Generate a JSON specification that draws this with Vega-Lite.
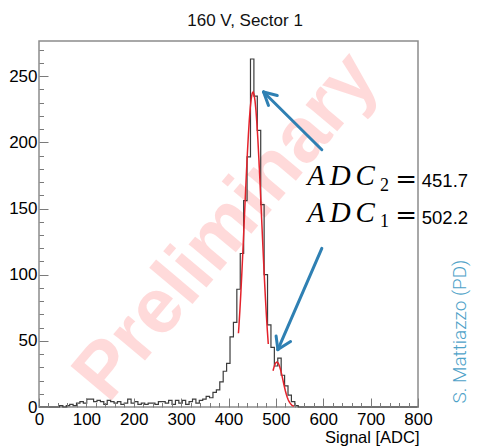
{
  "$schema": "https://vega.github.io/schema/vega-lite/v6.json",
  "width": 379,
  "height": 366,
  "autosize": {"type": "none"},
  "padding": {"left": 39, "top": 41, "right": 65, "bottom": 39},
  "background": "white",
  "config": {
    "view": {"stroke": "#8c8c8c", "strokeWidth": 1.5},
    "font": "Liberation Sans"
  },
  "resolve": {"axis": {"x": "independent", "y": "independent"}},
  "datasets": {
    "hist": [
      {"lo": 0, "n": 0}, {"lo": 7.2, "n": 0}, {"lo": 14.4, "n": 0}, {"lo": 21.6, "n": 0},
      {"lo": 28.8, "n": 0}, {"lo": 36, "n": 0}, {"lo": 43.2, "n": 1}, {"lo": 50.4, "n": 0},
      {"lo": 57.6, "n": 1}, {"lo": 64.8, "n": 2}, {"lo": 72, "n": 1}, {"lo": 79.2, "n": 3},
      {"lo": 86.4, "n": 4}, {"lo": 93.6, "n": 3}, {"lo": 100.8, "n": 6}, {"lo": 108, "n": 6},
      {"lo": 115.2, "n": 4}, {"lo": 122.4, "n": 5}, {"lo": 129.6, "n": 4}, {"lo": 136.8, "n": 2},
      {"lo": 144, "n": 5}, {"lo": 151.2, "n": 4}, {"lo": 158.4, "n": 3}, {"lo": 165.6, "n": 4},
      {"lo": 172.8, "n": 2}, {"lo": 180, "n": 3}, {"lo": 187.2, "n": 6}, {"lo": 194.4, "n": 3},
      {"lo": 201.6, "n": 4}, {"lo": 208.8, "n": 2}, {"lo": 216, "n": 3}, {"lo": 223.2, "n": 2},
      {"lo": 230.4, "n": 3}, {"lo": 237.6, "n": 3}, {"lo": 244.8, "n": 2}, {"lo": 252, "n": 4},
      {"lo": 259.2, "n": 4}, {"lo": 266.4, "n": 3}, {"lo": 273.6, "n": 5}, {"lo": 280.8, "n": 2},
      {"lo": 288, "n": 5}, {"lo": 295.2, "n": 3}, {"lo": 302.4, "n": 5}, {"lo": 309.6, "n": 2},
      {"lo": 316.8, "n": 4}, {"lo": 324, "n": 6}, {"lo": 331.2, "n": 3}, {"lo": 338.4, "n": 5},
      {"lo": 345.6, "n": 6}, {"lo": 352.8, "n": 8}, {"lo": 360, "n": 7}, {"lo": 367.2, "n": 11},
      {"lo": 374.4, "n": 13}, {"lo": 381.6, "n": 19}, {"lo": 388.8, "n": 27}, {"lo": 396, "n": 33},
      {"lo": 403.2, "n": 53}, {"lo": 410.4, "n": 64}, {"lo": 417.6, "n": 89}, {"lo": 424.8, "n": 116},
      {"lo": 432, "n": 156}, {"lo": 439.2, "n": 189}, {"lo": 446.4, "n": 263}, {"lo": 453.6, "n": 235},
      {"lo": 460.8, "n": 209}, {"lo": 468, "n": 153}, {"lo": 475.2, "n": 100}, {"lo": 482.4, "n": 62},
      {"lo": 489.6, "n": 45}, {"lo": 496.8, "n": 31}, {"lo": 504, "n": 37}, {"lo": 511.2, "n": 24},
      {"lo": 518.4, "n": 16}, {"lo": 525.6, "n": 9}, {"lo": 532.8, "n": 4}, {"lo": 540, "n": 1},
      {"lo": 547.2, "n": 0}, {"lo": 554.4, "n": 0}, {"lo": 799.2, "n": 0}
    ],
    "fit": [
      {"peak": "ADC2", "adc": 421, "n": 55.7}, {"peak": "ADC2", "adc": 422, "n": 61.0},
      {"peak": "ADC2", "adc": 424, "n": 72.8}, {"peak": "ADC2", "adc": 426, "n": 85.9},
      {"peak": "ADC2", "adc": 428, "n": 100.0}, {"peak": "ADC2", "adc": 430, "n": 115.1},
      {"peak": "ADC2", "adc": 432, "n": 130.8}, {"peak": "ADC2", "adc": 434, "n": 146.8},
      {"peak": "ADC2", "adc": 436, "n": 162.7}, {"peak": "ADC2", "adc": 438, "n": 178.1},
      {"peak": "ADC2", "adc": 440, "n": 192.7}, {"peak": "ADC2", "adc": 442, "n": 205.8},
      {"peak": "ADC2", "adc": 444, "n": 217.2}, {"peak": "ADC2", "adc": 446, "n": 226.4},
      {"peak": "ADC2", "adc": 448, "n": 233.0}, {"peak": "ADC2", "adc": 450, "n": 237.0},
      {"peak": "ADC2", "adc": 452, "n": 238.0}, {"peak": "ADC2", "adc": 454, "n": 236.1},
      {"peak": "ADC2", "adc": 456, "n": 231.3}, {"peak": "ADC2", "adc": 458, "n": 223.9},
      {"peak": "ADC2", "adc": 460, "n": 214.0}, {"peak": "ADC2", "adc": 462, "n": 202.1},
      {"peak": "ADC2", "adc": 464, "n": 188.4}, {"peak": "ADC2", "adc": 466, "n": 173.6},
      {"peak": "ADC2", "adc": 468, "n": 158.0}, {"peak": "ADC2", "adc": 470, "n": 141.9},
      {"peak": "ADC2", "adc": 472, "n": 126.0}, {"peak": "ADC2", "adc": 474, "n": 110.5},
      {"peak": "ADC2", "adc": 476, "n": 95.7}, {"peak": "ADC2", "adc": 478, "n": 81.8},
      {"peak": "ADC2", "adc": 480, "n": 69.2}, {"peak": "ADC2", "adc": 482, "n": 57.7},
      {"peak": "ADC2", "adc": 484, "n": 47.6},
      {"peak": "ADC1", "adc": 494, "n": 27.4}, {"peak": "ADC1", "adc": 496, "n": 30.1},
      {"peak": "ADC1", "adc": 498, "n": 32.1}, {"peak": "ADC1", "adc": 500, "n": 33.5},
      {"peak": "ADC1", "adc": 502, "n": 34.0}, {"peak": "ADC1", "adc": 504, "n": 33.6},
      {"peak": "ADC1", "adc": 506, "n": 32.5}, {"peak": "ADC1", "adc": 508, "n": 30.5},
      {"peak": "ADC1", "adc": 510, "n": 28.0}, {"peak": "ADC1", "adc": 512, "n": 25.0},
      {"peak": "ADC1", "adc": 514, "n": 21.8}, {"peak": "ADC1", "adc": 516, "n": 18.5},
      {"peak": "ADC1", "adc": 518, "n": 15.3}, {"peak": "ADC1", "adc": 520, "n": 12.3},
      {"peak": "ADC1", "adc": 522, "n": 9.7}, {"peak": "ADC1", "adc": 524, "n": 7.4},
      {"peak": "ADC1", "adc": 526, "n": 5.5}, {"peak": "ADC1", "adc": 528, "n": 4.0},
      {"peak": "ADC1", "adc": 530, "n": 2.9}, {"peak": "ADC1", "adc": 532, "n": 2.0},
      {"peak": "ADC1", "adc": 534, "n": 1.3}, {"peak": "ADC1", "adc": 536, "n": 0.9},
      {"peak": "ADC1", "adc": 538, "n": 0.6}
    ],
    "arrows": [
      {"part": "shaft", "adc": 597, "n": 194.4, "adc2": 474, "n2": 238.1},
      {"part": "head", "adc": 474, "n": 238.1, "adc2": 503, "n2": 235.4},
      {"part": "head", "adc": 474, "n": 238.1, "adc2": 484.4, "n2": 227.9},
      {"part": "shaft", "adc": 597, "n": 119.9, "adc2": 504.2, "n2": 43.4},
      {"part": "head", "adc": 504.2, "n": 43.4, "adc2": 500.5, "n2": 53.6},
      {"part": "head", "adc": 504.2, "n": 43.4, "adc2": 531, "n2": 49.5}
    ]
  },
  "layer": [
    {
      "data": {"values": [{"t": "Preliminary"}]},
      "mark": {
        "type": "text",
        "font": "Liberation Sans",
        "fontWeight": "bold",
        "fontSize": 78,
        "angle": 310,
        "align": "center",
        "baseline": "middle",
        "color": "#ff0000",
        "opacity": 0.14
      },
      "encoding": {
        "x": {
          "datum": 397,
          "type": "quantitative",
          "scale": {"domain": [0, 800], "nice": false, "zero": false},
          "axis": {
            "orient": "bottom",
            "title": null,
            "domain": false,
            "grid": false,
            "labels": false,
            "values": [20, 40, 60, 80, 120, 140, 160, 180, 220, 240, 260, 280, 320, 340, 360, 380, 420, 440, 460, 480, 520, 540, 560, 580, 620, 640, 660, 680, 720, 740, 760, 780],
            "tickColor": "#7a7a7a",
            "tickWidth": 1,
            "tickSize": -4.5,
            "zindex": 1
          }
        },
        "y": {
          "datum": 136,
          "type": "quantitative",
          "scale": {"domain": [0, 276.6], "nice": false},
          "axis": {
            "orient": "left",
            "title": null,
            "domain": false,
            "grid": false,
            "labels": false,
            "values": [10, 20, 30, 40, 60, 70, 80, 90, 110, 120, 130, 140, 160, 170, 180, 190, 210, 220, 230, 240, 260, 270],
            "tickColor": "#7a7a7a",
            "tickWidth": 1,
            "tickSize": -4.5,
            "zindex": 1
          }
        },
        "text": {"field": "t"}
      }
    },
    {
      "data": {"name": "hist"},
      "mark": {"type": "line", "interpolate": "step-after", "color": "#3c3c3c", "strokeWidth": 1.2},
      "encoding": {
        "x": {
          "field": "lo",
          "type": "quantitative",
          "axis": {
            "orient": "bottom",
            "title": "Signal [ADC]",
            "titleFont": "Liberation Sans",
            "titleFontSize": 16.5,
            "titleFontWeight": "normal",
            "titleColor": "#000000",
            "titleAnchor": "end",
            "titleAlign": "right",
            "titleBaseline": "alphabetic",
            "titleX": 380,
            "titleY": 35,
            "domain": false,
            "grid": false,
            "values": [0, 100, 200, 300, 400, 500, 600, 700, 800],
            "tickColor": "#7a7a7a",
            "tickWidth": 1,
            "tickSize": -9,
            "labelFont": "Liberation Sans",
            "labelFontSize": 17,
            "labelColor": "#000000",
            "labelPadding": 13,
            "labelOverlap": false,
            "labelFlush": false,
            "labelBound": false,
            "zindex": 1
          }
        },
        "y": {
          "field": "n",
          "type": "quantitative",
          "axis": {
            "orient": "left",
            "title": null,
            "domain": false,
            "grid": false,
            "values": [0, 50, 100, 150, 200, 250],
            "tickColor": "#7a7a7a",
            "tickWidth": 1,
            "tickSize": -9,
            "labelFont": "Liberation Sans",
            "labelFontSize": 17,
            "labelColor": "#000000",
            "labelPadding": 11,
            "labelOverlap": false,
            "labelFlush": false,
            "labelBound": false,
            "zindex": 1
          }
        }
      }
    },
    {
      "data": {"name": "fit"},
      "mark": {"type": "line", "color": "#e4222b", "strokeWidth": 1.5},
      "encoding": {
        "x": {"field": "adc", "type": "quantitative", "axis": null},
        "y": {"field": "n", "type": "quantitative", "axis": null},
        "detail": {"field": "peak"}
      }
    },
    {
      "data": {"name": "arrows"},
      "mark": {"type": "rule", "color": "#2f80b3", "strokeWidth": 3, "strokeCap": "round"},
      "encoding": {
        "x": {"field": "adc", "type": "quantitative", "axis": null},
        "y": {"field": "n", "type": "quantitative", "axis": null},
        "x2": {"field": "adc2"},
        "y2": {"field": "n2"}
      }
    },
    {
      "data": {"values": [{"t": "160 V, Sector 1"}]},
      "mark": {"type": "text", "font": "Liberation Sans", "fontSize": 17, "align": "center", "baseline": "alphabetic", "color": "#111111"},
      "encoding": {
        "x": {"datum": 435, "type": "quantitative", "axis": null},
        "y": {"datum": 288.3, "type": "quantitative", "axis": null},
        "text": {"field": "t"}
      }
    },
    {
      "data": {"values": [{"t": "A\u2006D\u2006C"}]},
      "mark": {"type": "text", "font": "Liberation Serif", "fontStyle": "italic", "fontSize": 29, "align": "left", "baseline": "alphabetic", "color": "#000000"},
      "encoding": {
        "x": {"datum": 566, "type": "quantitative", "axis": null},
        "y": {"datum": 167.4, "type": "quantitative", "axis": null},
        "text": {"field": "t"}
      }
    },
    {
      "data": {"values": [{"t": "A\u2006D\u2006C"}]},
      "mark": {"type": "text", "font": "Liberation Serif", "fontStyle": "italic", "fontSize": 29, "align": "left", "baseline": "alphabetic", "color": "#000000"},
      "encoding": {
        "x": {"datum": 566, "type": "quantitative", "axis": null},
        "y": {"datum": 139.7, "type": "quantitative", "axis": null},
        "text": {"field": "t"}
      }
    },
    {
      "data": {"values": [{"t": "2"}]},
      "mark": {"type": "text", "font": "Liberation Serif", "fontSize": 18, "align": "left", "baseline": "alphabetic", "color": "#000000"},
      "encoding": {
        "x": {"datum": 720, "type": "quantitative", "axis": null},
        "y": {"datum": 163.5, "type": "quantitative", "axis": null},
        "text": {"field": "t"}
      }
    },
    {
      "data": {"values": [{"t": "1"}]},
      "mark": {"type": "text", "font": "Liberation Serif", "fontSize": 18, "align": "left", "baseline": "alphabetic", "color": "#000000"},
      "encoding": {
        "x": {"datum": 720, "type": "quantitative", "axis": null},
        "y": {"datum": 135.8, "type": "quantitative", "axis": null},
        "text": {"field": "t"}
      }
    },
    {
      "data": {"values": [{"t": "="}]},
      "mark": {"type": "text", "font": "DejaVu Serif", "fontSize": 26, "align": "center", "baseline": "middle", "color": "#000000"},
      "encoding": {
        "x": {"datum": 775, "type": "quantitative", "axis": null},
        "y": {"datum": 171.6, "type": "quantitative", "axis": null},
        "text": {"field": "t"}
      }
    },
    {
      "data": {"values": [{"t": "="}]},
      "mark": {"type": "text", "font": "DejaVu Serif", "fontSize": 26, "align": "center", "baseline": "middle", "color": "#000000"},
      "encoding": {
        "x": {"datum": 775, "type": "quantitative", "axis": null},
        "y": {"datum": 144, "type": "quantitative", "axis": null},
        "text": {"field": "t"}
      }
    },
    {
      "data": {"values": [{"t": "451.7"}]},
      "mark": {"type": "text", "font": "Liberation Sans", "fontSize": 18.5, "align": "left", "baseline": "alphabetic", "color": "#000000"},
      "encoding": {
        "x": {"datum": 808, "type": "quantitative", "axis": null},
        "y": {"datum": 166, "type": "quantitative", "axis": null},
        "text": {"field": "t"}
      }
    },
    {
      "data": {"values": [{"t": "502.2"}]},
      "mark": {"type": "text", "font": "Liberation Sans", "fontSize": 18.5, "align": "left", "baseline": "alphabetic", "color": "#000000"},
      "encoding": {
        "x": {"datum": 808, "type": "quantitative", "axis": null},
        "y": {"datum": 138, "type": "quantitative", "axis": null},
        "text": {"field": "t"}
      }
    },
    {
      "data": {"values": [{"t": "S. Mattiazzo (PD)"}]},
      "mark": {"type": "text", "font": "Roboto", "fontWeight": 300, "fontSize": 19, "angle": 270, "align": "center", "baseline": "middle", "color": "#4ea2c8"},
      "encoding": {
        "x": {"datum": 889, "type": "quantitative", "axis": null},
        "y": {"datum": 57, "type": "quantitative", "axis": null},
        "text": {"field": "t"}
      }
    }
  ]
}
